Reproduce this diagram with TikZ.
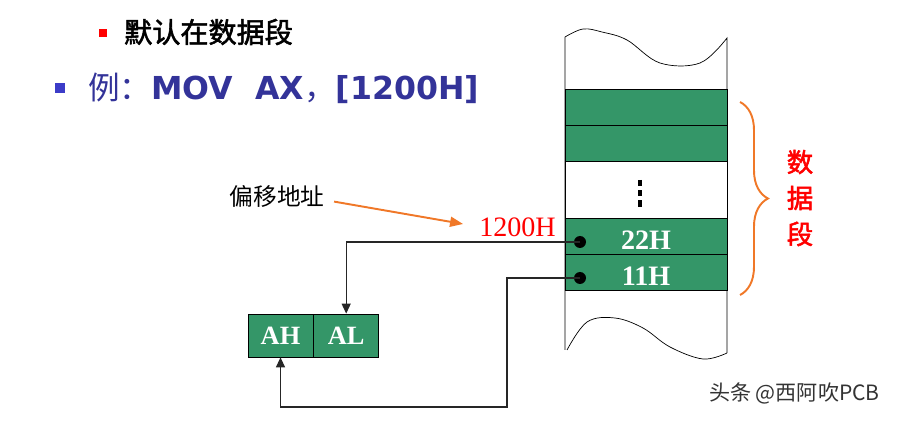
\documentclass[tikz,border=0pt]{standalone}
\usepackage{fontspec}
\setmainfont{Liberation Serif}
\newfontfamily\cjk[AutoFakeBold=2]{Noto Sans CJK SC}
\newfontfamily\titlesans{DejaVu Sans}
\usetikzlibrary{arrows.meta,decorations.pathreplacing,positioning}
\definecolor{memgreen}{RGB}{52,150,104}
\definecolor{braceorange}{RGB}{240,120,40}
\definecolor{titleblue}{RGB}{51,51,153}
\definecolor{bulletblue}{RGB}{60,60,200}
\tikzset{
  cell/.style={draw, fill=memgreen, minimum width=3.24cm, minimum height=0.72cm,
    inner sep=0pt, text=white, text height=15pt, font=\fontsize{16}{16}\selectfont\bfseries},
  emptycell/.style={cell, fill=white},
  regbox/.style={draw, fill=memgreen, minimum width=1.3cm, minimum height=0.86cm,
    inner sep=0pt, text=white, font=\fontsize{15}{15}\selectfont\bfseries},
  dot/.style={circle, fill, inner sep=0pt, minimum size=0.24cm},
  bullet/.style={rectangle, inner sep=0pt, minimum size=#1},
  conn/.style={-{Triangle[length=0.2cm, width=0.18cm]}, line width=0.7pt, draw=black!85},
  pointer/.style={-{Triangle[length=0.26cm, width=0.2cm]}, line width=1.1pt, braceorange},
}
\begin{document}
\begin{tikzpicture}[x=0.02cm, y=-0.02cm]
  \useasboundingbox (0,0) rectangle (897,422);

  % Bullet lines
  \node[bullet=0.16cm, fill=red] (b1) at (103,33) {};
  \node[anchor=west, font=\cjk\bfseries\fontsize{16}{16}\selectfont] (rule) at (118,32) {默认在数据段};
  \node[bullet=0.2cm, fill=bulletblue] (b2) at (60,88) {};
  \node[anchor=west, text=titleblue, font=\fontsize{18}{18}\selectfont] (ex) at (82,88)
    {{\cjk 例：}{\titlesans\bfseries MOV\ \ AX}{\cjk ，}{\titlesans\bfseries [1200H]}};

  % Memory column outline
  \draw (565,350) -- (565,37)
    plot[smooth, tension=0.6] coordinates {(565,37) (583,29) (602,32) (627,40) (660,63) (700,63) (727,38)}
    -- (727,353);
  \draw plot[smooth, tension=0.6] coordinates {(567,350) (587,322) (615,318) (643,328) (670,347) (703,359) (727,353)};

  % Memory cells
  \node[cell] (r1) at (646,107) {};
  \node[cell] (r2) at (646,143) {};
  \node[emptycell, minimum height=1.14cm] (gap) at (646,189.5) {};
  \node[cell] (r22) at (646,236) {22H};
  \node[cell] (r11) at (646,272) {11H};
  \draw[line width=2.2pt, dash pattern=on 3.5pt off 2.3pt] (640,180) -- (640,208);

  \node[dot] (d22) at (580,242) {};
  \node[dot] (d11) at (580,278) {};

  % Data segment brace
  \draw[braceorange, line width=1.1pt, decorate, decoration={brace, amplitude=0.56cm}]
    (740,102) -- (740,295);
  \node[red, align=center, font=\cjk\bfseries\fontsize{15}{20.5}\selectfont] (seg) at (800,198) {数\\据\\段};

  % Offset address
  \node[font=\cjk\fontsize{13.5}{14}\selectfont] (off) at (277,197) {偏移地址};
  \node[red, anchor=east, font=\fontsize{16}{16}\selectfont] (addr) at (562,227) {1200H};
  \draw[pointer, shorten <=2pt] ([yshift=-0.08cm]off.east) -- ([yshift=0.06cm, xshift=-0.2cm]addr.west);

  % Register AX
  \node[regbox] (ah) at (280.5,335.5) {AH};
  \node[regbox, right=0pt of ah] (al) {AL};

  % Data paths
  \coordinate (turn) at (507,407);
  \draw[conn] (d22.center) -| (al.north);
  \draw[conn] (d11.center) -| (turn) -| (ah.south);

  % Watermark
  \node[anchor=east, text=black!80, font=\cjk\fontsize{12}{13}\selectfont] (wm) at (886,393) {头条 @西阿吹PCB};
\end{tikzpicture}
\end{document}
